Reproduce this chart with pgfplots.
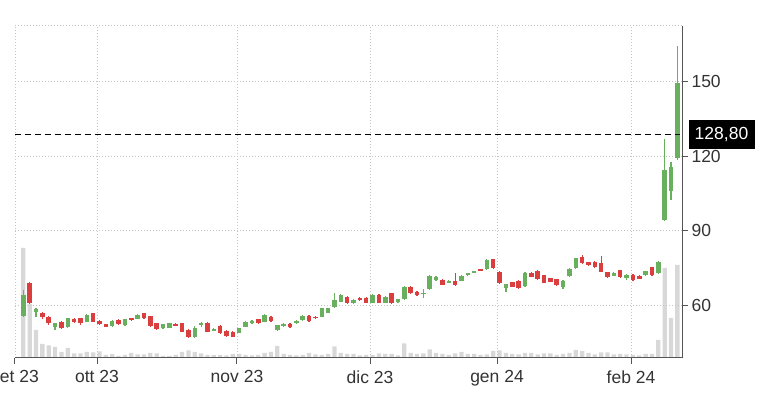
\documentclass[border=0pt]{standalone}
\usepackage{pgfplots}
\pgfplotsset{compat=1.18}
\usepackage{pgfplotstable}
\usepackage{fontspec}
\setmainfont{Liberation Sans}
\definecolor{cgreen}{RGB}{104,176,94}
\definecolor{cred}{RGB}{218,62,62}
\definecolor{volgray}{RGB}{216,216,216}
\definecolor{gridgray}{RGB}{196,196,196}
\definecolor{axisgray}{RGB}{85,85,85}
\definecolor{labelgray}{RGB}{51,51,51}

\pgfplotstableread{
i o h l c
0 55.7 66.2 55.4 64.0
2 57.4 58.8 55.4 58.4
5 51.4 53.0 50.1 52.8
7 51.1 55.0 50.9 54.8
10 53.4 56.3 53.1 56.1
14 51.7 54.0 51.4 53.8
16 52.1 54.5 51.8 54.4
18 54.6 56.3 54.4 56.1
22 50.7 52.6 50.5 52.4
23 51.0 53.0 50.7 52.8
27 47.1 51.8 46.9 50.7
28 52.1 53.2 51.4 52.8
30 49.8 50.7 49.5 50.5
34 49.0 51.0 48.7 50.7
35 51.4 53.6 51.1 53.4
36 52.8 54.0 52.5 53.8
38 53.4 56.3 53.2 56.1
40 50.1 52.2 49.6 52.0
41 51.7 52.8 51.4 52.5
43 52.8 53.9 52.5 53.7
44 54.1 55.9 53.8 55.7
47 55.4 59.0 55.2 58.8
48 57.0 59.1 56.8 58.8
49 59.2 64.8 58.9 62.1
50 61.5 64.4 61.2 64.2
52 60.8 62.4 60.5 62.1
55 61.1 64.4 60.8 64.2
57 61.1 63.7 60.8 63.5
59 61.2 62.7 61.0 62.4
60 62.4 67.7 62.2 67.5
63 64.6 66.4 62.8 65.1
64 66.4 72.0 66.2 71.8
65 70.2 71.8 69.9 71.5
67 69.1 70.0 68.8 69.8
69 69.9 72.0 69.6 71.8
70 72.1 73.1 71.8 72.9
71 73.1 74.0 72.8 73.8
73 74.6 78.5 74.4 78.2
76 66.8 68.7 65.5 68.5
79 67.8 73.3 67.5 73.1
85 67.5 70.1 66.7 69.9
86 71.8 75.0 71.5 74.7
87 74.9 79.1 74.7 78.9
93 71.8 73.3 71.6 73.1
95 70.9 72.4 70.2 72.2
98 72.1 74.0 71.9 73.8
100 72.9 77.8 72.6 77.6
101 94.3 126.8 94.0 114.5
102 106.1 117.8 102.4 115.8
103 119.2 164.4 118.5 149.6
}\up

\pgfplotstableread{
i o h l c
1 69.1 69.4 60.4 60.8
3 56.8 57.3 54.5 55.4
4 55.4 55.7 52.2 52.8
6 53.4 53.7 50.5 50.7
8 54.4 54.8 52.8 53.3
9 54.8 55.0 52.1 52.8
11 56.8 57.0 53.2 53.4
12 53.8 54.0 52.2 52.5
13 52.4 52.6 51.1 51.4
15 54.1 54.3 52.1 52.4
17 54.7 55.0 53.8 54.1
19 56.8 57.0 54.5 54.8
20 55.5 55.7 51.4 51.7
21 52.8 53.0 50.0 50.3
24 52.6 52.8 51.6 51.8
25 52.8 53.0 49.1 49.4
26 50.1 50.3 46.7 47.4
29 53.0 53.2 49.1 49.4
31 51.7 51.9 48.5 48.7
32 49.8 50.0 47.4 47.6
33 49.4 49.6 47.1 47.4
37 54.4 54.6 52.5 52.8
39 55.4 55.8 53.4 53.7
42 52.5 52.7 50.9 51.4
45 55.7 55.9 53.4 53.7
46 55.4 55.7 54.5 54.8
51 63.5 63.7 60.5 60.8
53 63.1 63.4 61.8 62.1
54 63.1 63.3 60.8 61.1
56 64.2 64.4 60.8 61.1
58 64.8 65.1 60.7 60.9
61 67.5 67.8 64.6 64.8
62 65.5 65.7 63.9 64.2
66 70.2 70.4 68.0 68.3
68 69.8 72.9 67.9 68.2
72 74.6 74.8 73.7 73.9
74 78.5 78.8 74.6 74.9
75 73.5 73.8 68.6 68.9
77 69.3 69.5 67.2 67.5
78 69.9 70.1 66.6 66.8
80 73.1 73.4 71.3 71.5
81 73.9 74.2 70.2 70.5
82 72.1 72.3 68.9 69.1
83 70.9 71.1 69.3 69.5
84 70.5 70.7 67.8 68.1
88 79.6 80.3 76.7 76.9
89 77.4 77.6 75.9 76.1
90 77.6 77.8 75.1 75.3
91 76.9 79.8 73.3 73.5
92 73.4 73.6 71.0 71.3
94 74.2 74.4 71.0 71.3
96 72.2 72.4 69.9 70.2
97 71.8 72.0 70.4 70.6
99 75.3 75.5 71.8 72.1
}\down

\pgfplotstableread{
i v
0 110
1 54
2 28
3 14
4 12.5
5 11
6 6
7 10
8 4.5
9 4.5
10 6
11 5.5
12 6.5
13 3
14 4
15 2
16 3
17 5
18 3.5
19 3.5
20 5
21 4.5
22 2
23 2
24 3
25 6
26 7.5
27 6
28 4.5
29 3
30 3
31 3
32 2.5
33 4
34 4
35 3
36 2.5
37 3
38 5
39 6
40 12
41 4
42 3
43 2.5
44 3
45 5
46 3.5
47 3
48 4
49 11.5
50 5
51 4
52 4
53 2.5
54 3
55 3
56 4.5
57 4
58 4
59 2.5
60 14.5
61 5
62 4
63 4.5
64 8.5
65 5
66 4
67 3
68 4.5
69 6
70 4
71 4
72 3
73 3.5
74 7
75 7.5
76 5
77 4
78 3.5
79 5
80 5
81 3.5
82 4.5
83 4.5
84 3
85 4
86 5
87 8
88 7
89 5
90 3.5
91 5.5
92 5.5
93 3.5
94 4
95 3.5
96 3
97 2.5
98 4
99 4
100 18
101 90
102 40
103 93
}\vol

\begin{document}
\begin{tikzpicture}
% volume
\begin{axis}[
  at={(0,0)}, anchor=south west,
  scale only axis, width=667pt, height=332.3pt,
  xmin=-1.31, xmax=103.73, ymin=0, ymax=332.3,
  hide axis,
]
\addplot[ybar, bar width=4.3pt, fill=volgray, draw=none] table[x=i, y=v] {\vol};
\end{axis}
% prices
\begin{axis}[
  at={(0,0)}, anchor=south west,
  scale only axis, width=667pt, height=332.3pt,
  xmin=-1.31, xmax=103.73, ymin=38.78, ymax=172.56,
  clip=false,
  axis x line*=bottom, axis y line*=right,
  axis line style={draw=axisgray, line width=1pt, -},
  xtick={-1.31,11.61,33.65,54.6,74.6,95.7},
  xticklabels={set 23,ott 23,nov 23,dic 23,gen 24,feb 24},
  ytick={60,90,120,150},
  yticklabels={60,90,120,150},
  grid=major,
  grid style={draw=gridgray, line width=0.9pt, dash pattern=on 1pt off 2pt},
  tick style={draw=axisgray, line width=1pt},
  major tick length=6pt,
  tick align=outside,
  /pgf/number format/assume math mode=true,
  ticklabel style={font=\fontsize{17.5}{20}\selectfont, text=labelgray},
  xticklabel style={yshift=-3pt},
]
\draw[draw=gridgray, line width=0.9pt, dash pattern=on 1pt off 2pt] (rel axis cs:0,1) -- (rel axis cs:1,1);
% wicks
\addplot[draw=none, forget plot, error bars/.cd, y dir=both, y explicit, error mark=none,
  error bar style={draw=cgreen, line width=1.2pt, solid}]
  table[x=i, y expr=(\thisrow{h}+\thisrow{l})/2, y error expr=(\thisrow{h}-\thisrow{l})/2] {\up};
\addplot[draw=none, forget plot, error bars/.cd, y dir=both, y explicit, error mark=none,
  error bar style={draw=cred, line width=1.2pt, solid}]
  table[x=i, y expr=(\thisrow{h}+\thisrow{l})/2, y error expr=(\thisrow{h}-\thisrow{l})/2] {\down};
% bodies
\addplot[draw=none, forget plot, error bars/.cd, y dir=both, y explicit, error mark=none,
  error bar style={draw=cgreen, line width=4.5pt, solid}]
  table[x=i, y expr=(\thisrow{o}+\thisrow{c})/2, y error expr=(\thisrow{c}-\thisrow{o})/2] {\up};
\addplot[draw=none, forget plot, error bars/.cd, y dir=both, y explicit, error mark=none,
  error bar style={draw=cred, line width=4.5pt, solid}]
  table[x=i, y expr=(\thisrow{o}+\thisrow{c})/2, y error expr=(\thisrow{o}-\thisrow{c})/2] {\down};
% last price line
\addplot[black, line width=1.2pt, dash pattern=on 6pt off 4pt] coordinates {(-1.31,128.8) (103.4,128.8)};
\node[fill=black, text=white, anchor=west, minimum width=66pt, minimum height=29.3pt, inner sep=0pt,
  font=\fontsize{17.5}{20}\selectfont, xshift=6.3pt] at (axis cs:103.73,128.8) {128,80};
\end{axis}
\pgfresetboundingbox
\path[use as bounding box] (-15pt,-40pt) rectangle (753pt,358pt);
\end{tikzpicture}
\end{document}
